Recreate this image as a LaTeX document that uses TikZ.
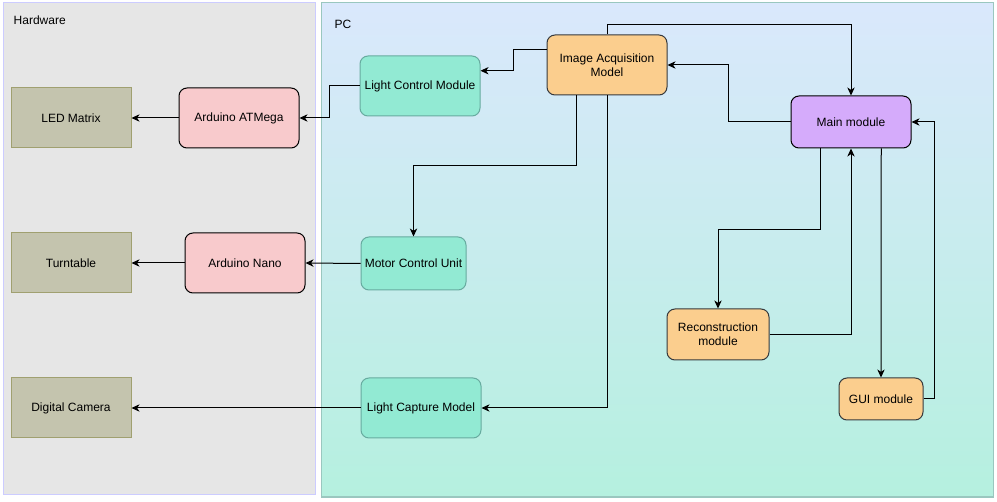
\documentclass[tikz,border=0pt]{standalone}
\usepackage{fontspec}
\setmainfont{Liberation Sans}
\usetikzlibrary{calc,positioning,arrows.meta}

\definecolor{hwback}{HTML}{E6E6E6}
\definecolor{hwline}{HTML}{CCCCFF}
\definecolor{pctop}{HTML}{DAE8FC}
\definecolor{pcbottom}{HTML}{B5F0DF}
\definecolor{pcline}{HTML}{9AC7BF}
\definecolor{devfill}{HTML}{C4C4AE}
\definecolor{devline}{HTML}{A0A070}
\definecolor{ardfill}{HTML}{F8CACC}
\definecolor{ctlfill}{HTML}{92EAD3}
\definecolor{ctlline}{HTML}{67AB9F}
\definecolor{modfill}{HTML}{FBCE8E}
\definecolor{modline}{HTML}{36393D}
\definecolor{mainfill}{HTML}{D5ABFB}

\tikzset{
  every node/.style={font=\fontsize{9}{10.5}\selectfont},
  devbox/.style={draw=devline,fill=devfill,line width=0.75pt,inner sep=0pt,
    minimum width=90pt,minimum height=45pt},
  ardbox/.style={draw=black,fill=ardfill,line width=0.75pt,rounded corners=6pt,
    inner sep=0pt,minimum width=90pt,minimum height=45pt},
  ctlbox/.style={draw=ctlline,fill=ctlfill,line width=0.75pt,rounded corners=6pt,
    inner sep=0pt,minimum width=90pt,minimum height=45pt},
  modbox/.style={draw=modline,fill=modfill,line width=0.75pt,rounded corners=6pt,
    inner sep=0pt,align=center},
  link/.style={-{Stealth[length=6pt,width=5.5pt,inset=1.8pt]},line width=0.75pt}
}

\begin{document}
\begin{tikzpicture}[x=0.75pt,y=-0.75pt]
  \useasboundingbox (0,0) rectangle (997,502);

  % the two areas
  \draw[hwline,fill=hwback,line width=0.75pt] (3,3) rectangle (315,495);
  \shade[top color=pctop,bottom color=pcbottom] (321,3) rectangle (993,497);
  \draw[pcline,line width=0.75pt] (321,3) rectangle (993,497);
  \node[anchor=west] (hwlabel) at (9,20) {Hardware};
  \node[anchor=west] (pclabel) at (330,24) {PC};

  % hardware
  \node[devbox] (led) at (71,118) {LED Matrix};
  \node[devbox] (turn) at (71,263) {Turntable};
  \node[devbox] (cam) at (71,408) {Digital Camera};
  \node[ardbox] (atm) at (239,118) {Arduino ATMega};
  \node[ardbox] (nano) at (245,263) {Arduino Nano};

  % pc
  \node[ctlbox] (lcm) at (420,86) {Light Control Module};
  \node[ctlbox,minimum width=78.75pt,minimum height=39.75pt] (mcu) at (413.5,263.5) {Motor Control Unit};
  \node[ctlbox] (lcap) at (421,408) {Light Capture Model};
  \node[modbox,minimum width=90pt,minimum height=45pt] (iam) at (607,65) {Image Acquisition\\Model};
  \node[modbox,fill=mainfill,draw=black,minimum width=90pt,minimum height=39pt] (main) at (851,122) {Main module};
  \node[modbox,minimum width=76.5pt,minimum height=38.25pt] (rec) at (718,334.5) {Reconstruction\\module};
  \node[modbox,minimum width=63pt,minimum height=31.5pt] (gui) at (881,399) {GUI module};

  % connectors
  \draw[link] (atm.west) -- (led.east);
  \draw[link] (nano.west) -- (turn.east);
  \draw[link] (lcap.west) -- (cam.east);
  \draw[link] (mcu.west) -- (nano.east);
  \draw[link] (lcm.west) -- ++(-30,0) |- (atm.east);
  \draw[link] ($(iam.north west)!0.25!(iam.south west)$) -- ++(-33,0)
    |- ($(lcm.north east)!0.25!(lcm.south east)$);
  \draw[link] ($(iam.south west)!0.25!(iam.south east)$) -- ++(0,70) -| (mcu.north);
  \draw[link] (iam.south) |- (lcap.east);
  \draw[link] (iam.north) -- ++(0,-10) -| (main.north);
  \draw[link] (main.west) -- ++(-62,0) |- (iam.east);
  \draw[link] ($(main.south west)!0.25!(main.south east)$) -- ++(0,81) -| (rec.north);
  \draw[link] (rec.east) -| (main.south);
  \draw[link] ($(main.south west)!0.75!(main.south east)$) -- (gui.north);
  \draw[link] (gui.east) -- ++(11,0) |- (main.east);
\end{tikzpicture}
\end{document}
